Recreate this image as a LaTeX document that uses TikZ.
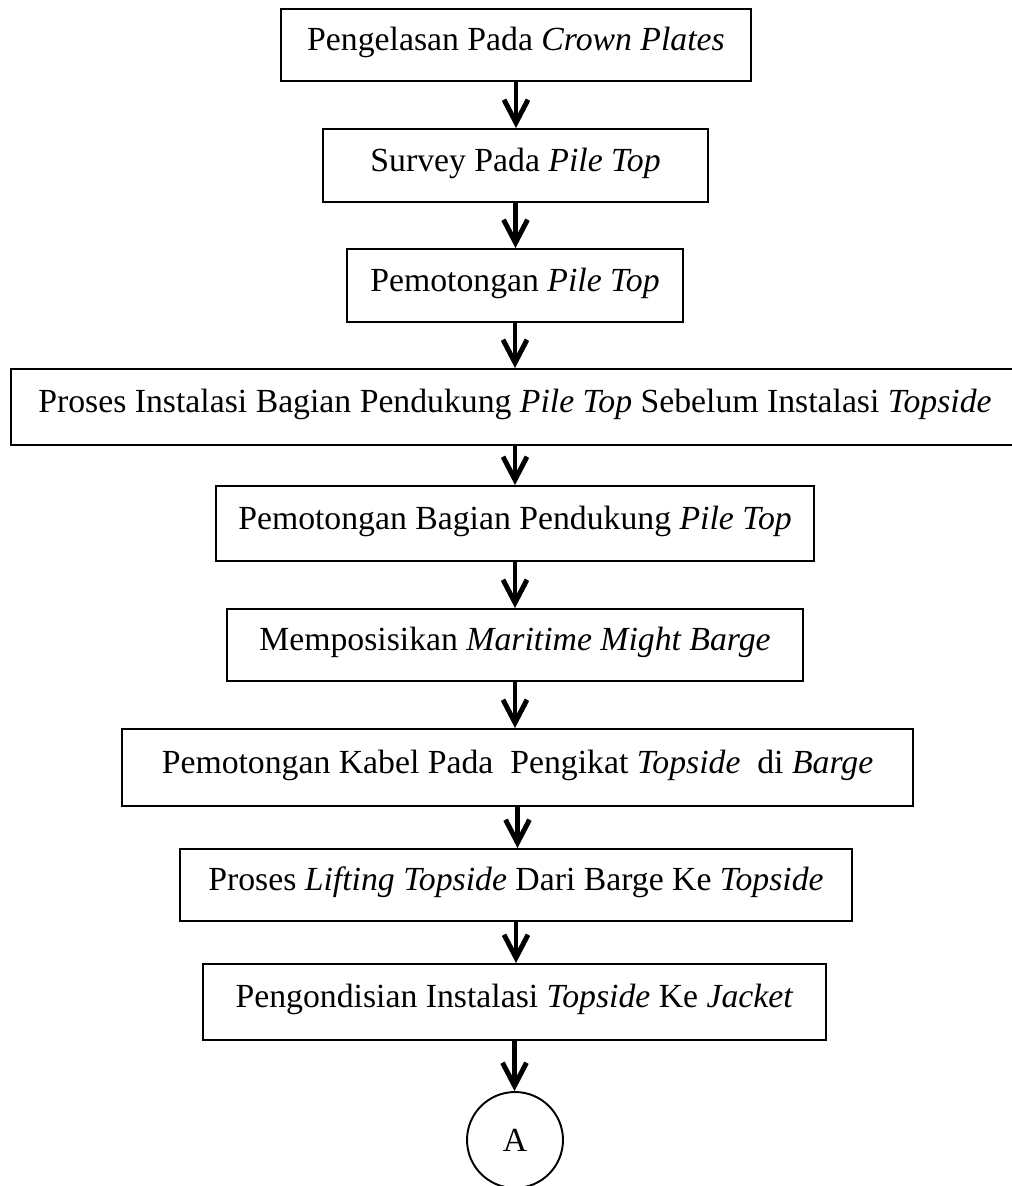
\documentclass[tikz,border=0pt]{standalone}
\usepackage{fontspec}
\setmainfont{Liberation Serif}
\usetikzlibrary{arrows.meta}

\begin{document}
\begin{tikzpicture}[x=0.02cm, y=0.02cm,
  proc/.style={draw, line width=1.1pt, inner sep=0pt, text height=0.44cm, text depth=0.22cm},
  flow/.style={line width=2.3pt, -{Straight Barb[length=4.6mm,width=4.8mm,line width=2.8pt]}}]
\tikzstyle{every node}+=[font=\fontsize{19.2}{22}\selectfont]
\useasboundingbox (0,0) rectangle (1011,-1186);
\node [proc, minimum width=9.40cm, minimum height=1.44cm] (b1) at (516,-45) {Pengelasan Pada \textit{Crown Plates}};
\node [proc, minimum width=7.70cm, minimum height=1.46cm] (b2) at (515.5,-165.5) {Survey Pada \textit{Pile Top}};
\node [proc, minimum width=6.72cm, minimum height=1.46cm] (b3) at (515,-285.5) {Pemotongan \textit{Pile Top}};
\node [proc, minimum width=20.16cm, minimum height=1.52cm] (b4) at (515,-407) {Proses Instalasi Bagian Pendukung \textit{Pile Top} Sebelum Instalasi \textit{Topside}};
\node [proc, minimum width=11.96cm, minimum height=1.50cm] (b5) at (515,-523.5) {Pemotongan Bagian Pendukung \textit{Pile Top}};
\node [proc, minimum width=11.52cm, minimum height=1.44cm] (b6) at (515,-645) {Memposisikan \textit{Maritime Might Barge}};
\node [proc, minimum width=15.82cm, minimum height=1.54cm] (b7) at (517.5,-767.5) {Pemotongan Kabel Pada~ Pengikat \textit{Topside}~ di \textit{Barge}};
\node [proc, minimum width=13.44cm, minimum height=1.44cm] (b8) at (516,-885) {Proses \textit{Lifting Topside} Dari Barge Ke \textit{Topside}};
\node [proc, minimum width=12.46cm, minimum height=1.52cm] (b9) at (514.5,-1002) {Pengondisian Instalasi \textit{Topside} Ke \textit{Jacket}};
\node [draw, circle, line width=1.1pt, inner sep=0pt, minimum size=1.92cm] (conA) at (515,-1140) {A};
% arrows between the steps
\foreach \s/\t in {b1/b2, b2/b3, b3/b4, b4/b5, b5/b6, b6/b7, b7/b8, b8/b9, b9/conA}
  \draw [flow] (\s.south) -- (\s.south |- \t.north);
\end{tikzpicture}
\end{document}
